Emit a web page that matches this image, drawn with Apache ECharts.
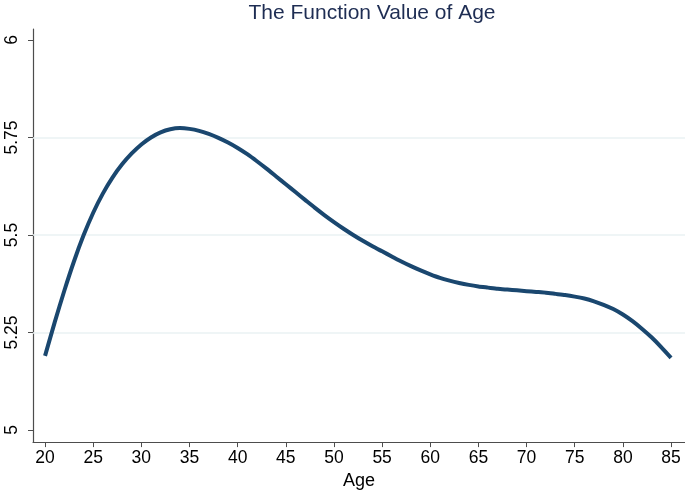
<!DOCTYPE html>
<html>
<head>
<meta charset="utf-8">
<script src="https://cdn.jsdelivr.net/npm/echarts@6/dist/echarts.min.js"></script>
<style>
  html, body { margin: 0; padding: 0; background: #fff; }
  #chart { width: 685px; height: 495px; }
</style>
</head>
<body>
<div id="chart"></div>
<script>
// ages and function values
var ages = [20, 21, 22, 23, 24, 25, 26, 27, 28, 29, 30, 31, 32, 33, 34, 35, 36, 37, 38, 39,
  40, 41, 42, 43, 44, 45, 46, 47, 48, 49, 50, 51, 52, 53, 54, 55, 56, 57, 58, 59,
  60, 61, 62, 63, 64, 65, 66, 67, 68, 69, 70, 71, 72, 73, 74, 75, 76, 77, 78, 79,
  80, 81, 82, 83, 84, 85];
var values = [5.190, 5.276, 5.357, 5.432, 5.499, 5.557, 5.606, 5.647, 5.681, 5.709,
  5.732, 5.750, 5.763, 5.771, 5.774, 5.772, 5.767, 5.759, 5.749, 5.737,
  5.723, 5.707, 5.689, 5.670, 5.650, 5.630, 5.610, 5.590, 5.570, 5.551,
  5.533, 5.516, 5.500, 5.485, 5.471, 5.458, 5.445, 5.432, 5.420, 5.409,
  5.399, 5.390, 5.383, 5.377, 5.372, 5.368, 5.365, 5.362, 5.360, 5.358,
  5.356, 5.354, 5.352, 5.349, 5.346, 5.342, 5.337, 5.330, 5.321, 5.310,
  5.296, 5.279, 5.259, 5.237, 5.212, 5.185];
var xTicks = [20, 25, 30, 35, 40, 45, 50, 55, 60, 65, 70, 75, 80, 85];
var yTicks = [5, 5.25, 5.5, 5.75, 6];
var yGrid = [5.25, 5.5, 5.75];

var chart = echarts.init(document.getElementById('chart'));
var font = 'Liberation Sans, Arial, sans-serif';
var axisColor = '#4d4d4d';

chart.setOption({
  animation: false,
  textStyle: { fontFamily: font },
  title: {
    text: 'The Function Value of Age',
    left: 367,
    textAlign: 'center',
    top: -2,
    textStyle: { fontSize: 21, fontWeight: 'normal', color: '#1e2d53', fontFamily: font }
  },
  grid: { left: 33, right: 0, top: 29, bottom: 51 },
  xAxis: {
    type: 'value',
    min: 18.75,
    max: 86.45,
    name: 'Age',
    nameLocation: 'middle',
    nameGap: 29,
    nameTextStyle: { fontSize: 18, color: '#000', fontFamily: font },
    axisLine: { show: true, lineStyle: { color: axisColor, width: 1.2 } },
    axisTick: { show: true, length: 5, customValues: xTicks, lineStyle: { color: axisColor } },
    axisLabel: { customValues: xTicks, fontSize: 17.5, color: '#000', margin: 7, fontFamily: font },
    splitLine: { show: false }
  },
  yAxis: {
    type: 'value',
    min: 4.969,
    max: 6.028,
    axisLine: { show: true, lineStyle: { color: axisColor, width: 1.2 } },
    axisTick: { show: true, length: 5, customValues: yTicks, lineStyle: { color: axisColor } },
    axisLabel: {
      customValues: yTicks, fontSize: 17.5, color: '#000', rotate: 90, margin: 12,
      fontFamily: font, formatter: function (v) { return String(v); }
    },
    splitLine: { show: false }
  },
  series: [{
    // grid lines only, kept under the curve
    type: 'line',
    data: [],
    silent: true,
    z: 1,
    markLine: {
      silent: true,
      z: 1,
      symbol: 'none',
      label: { show: false },
      lineStyle: { color: '#eaf2f3', width: 1.5, type: 'solid' },
      data: yGrid.map(function (v) { return { yAxis: v }; })
    }
  }, {
    type: 'line',
    data: ages.map(function (a, i) { return [a, values[i]]; }),
    smooth: 0.2,
    showSymbol: false,
    lineStyle: { color: '#1a476f', width: 4 },
    z: 3
  }]
});
</script>
</body>
</html>
